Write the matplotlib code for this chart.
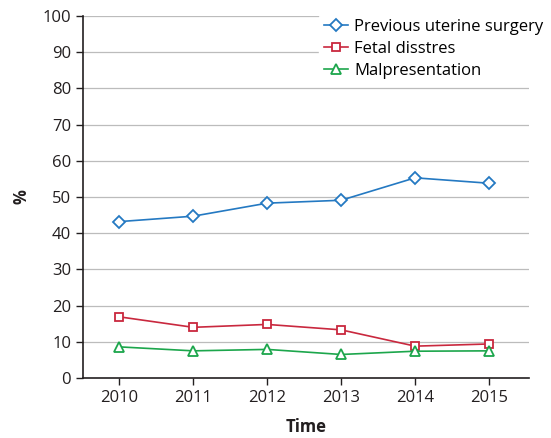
import matplotlib.pyplot as plt

# Data
years = [2010, 2011, 2012, 2013, 2014, 2015]
prev_surgery = [43.2, 44.7, 48.3, 49.1, 55.3, 53.8]
fetal_distress = [16.9, 14.0, 14.8, 13.3, 8.8, 9.4]
malpresentation = [8.6, 7.5, 7.9, 6.5, 7.4, 7.5]

labels = ["Previous uterine surgery", "Fetal disstres", "Malpresentation"]
colors = ["#2479c2", "#c9283e", "#1ca64c"]
markers = ["D", "s", "^"]
msizes = [6, 5.5, 6.5]

plt.rcParams['font.family'] = ['Open Sans', 'DejaVu Sans']

fig = plt.figure(figsize=(5.51, 4.38), dpi=100)
ax = fig.add_axes([83 / 551, 60 / 438, 446 / 551, 362 / 438])

series = [prev_surgery, fetal_distress, malpresentation]
for vals, lab, col, mk, ms in zip(series, labels, colors, markers, msizes):
    ax.plot(years, vals, color=col, marker=mk, markersize=ms,
            markerfacecolor="white", markeredgecolor=col, markeredgewidth=1.3,
            linewidth=1.2, label=lab, zorder=3)

ax.set_xlim(2009.51, 2015.54)
ax.set_ylim(0, 100)
ax.set_yticks(range(0, 101, 10))
ax.set_xticks(years)

# gridlines at each 10 (not at 0)
for y in range(10, 101, 10):
    ax.axhline(y, color="#bcbcbc", linewidth=0.9, zorder=1)

ax.spines['top'].set_visible(False)
ax.spines['right'].set_visible(False)
ax.spines['left'].set_color("#231f20")
ax.spines['bottom'].set_color("#231f20")
ax.spines['left'].set_linewidth(1.2)
ax.spines['bottom'].set_linewidth(1.2)
ax.tick_params(axis='both', direction='out', length=5, width=1, colors="#231f20",
               labelsize=12, labelcolor="#231f20")

ax.set_xlabel("Time", fontsize=12, fontweight="bold", color="#231f20", labelpad=9)
ax.set_ylabel("%", fontsize=12, fontweight="bold", color="#231f20")
ax.yaxis.set_label_coords(-0.118, 0.5)

leg = ax.legend(loc="upper left", bbox_to_anchor=(0.53, 1.005), frameon=True,
                fontsize=12, handlelength=1.4, handletextpad=0.4,
                labelspacing=0.35, borderaxespad=0.0, borderpad=0.3)
leg.get_frame().set_edgecolor("white")
leg.get_frame().set_facecolor("white")
leg.get_frame().set_alpha(1)
leg.set_zorder(5)

fig.savefig("out.png", dpi=100)
